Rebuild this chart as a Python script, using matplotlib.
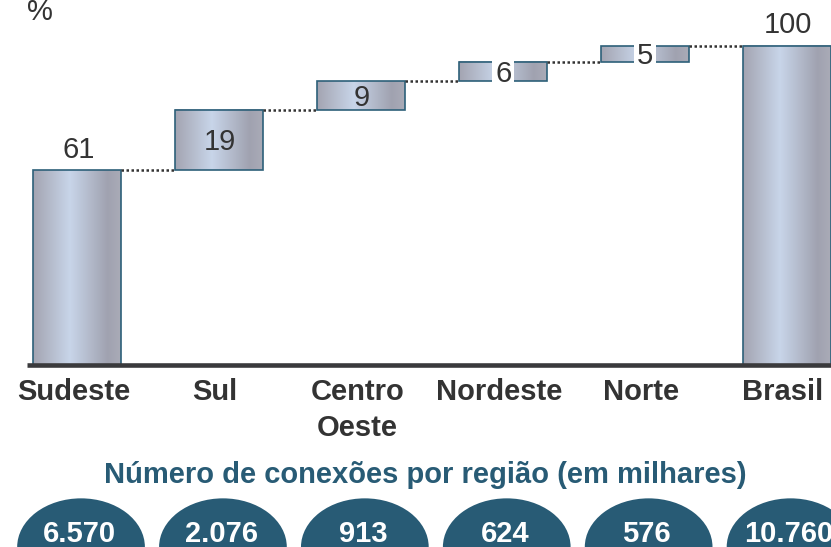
import matplotlib
matplotlib.use("Agg")
import matplotlib.pyplot as plt
import numpy as np
from matplotlib.colors import LinearSegmentedColormap
from matplotlib.patches import Ellipse, Rectangle

# ---- data ----
regions = ["Sudeste", "Sul", "Centro\nOeste", "Nordeste", "Norte", "Brasil"]
shares = [61, 19, 9, 6, 5]          # % contribution of each region
total = 100                          # Brasil
connections = ["6.570", "2.076", "913", "624", "576", "10.760"]
title_bottom = "Número de conexões por região (em milhares)"
unit_label = "%"

plt.rcParams['font.family'] = ['Liberation Sans', 'DejaVu Sans']

W, H = 831, 547
fig = plt.figure(figsize=(W / 100, H / 100), dpi=100)
ax = fig.add_axes([0, 0, 1, 1])
ax.axis('off')

DARK = '#333333'
TEAL = '#285b75'
EDGE = '#2d6079'
grad = LinearSegmentedColormap.from_list(
    'bar', [(0, '#a3a4b1'), (0.42, '#c8d5e9'), (0.85, '#a0a2b0'), (1, '#aaabb7')])
gimg = np.linspace(0, 1, 256).reshape(1, -1)

bw = 0.62
n = len(regions)
bottoms = list(np.concatenate([[0], np.cumsum(shares)[:-1]])) + [0]
heights = shares + [total]

for i, (b, h) in enumerate(zip(bottoms, heights)):
    x0, x1 = i - bw / 2, i + bw / 2
    ax.imshow(gimg, cmap=grad, extent=(x0, x1, b, b + h), aspect='auto',
              interpolation='bilinear', zorder=1)
    ax.add_patch(Rectangle((x0, b), bw, h, fill=False, edgecolor=EDGE,
                           linewidth=1.2, zorder=2))
    # connectors
    if i < n - 1:
        ax.plot([x1, i + 1 - bw / 2], [b + h, b + h], color=DARK,
                linestyle=(0, (1, 1)), linewidth=1.8, zorder=2)
    # value labels
    if i == 0 or i == n - 1:
        ax.annotate(str(h), xy=(i, b + h), xytext=(1, 9), textcoords='offset points',
                    ha='center', va='baseline', fontsize=21, color=DARK)
    else:
        kw = {}
        if h < 8:
            kw['bbox'] = dict(boxstyle='square,pad=0.1', fc='white', ec='none')
        ax.annotate(str(h), xy=(i, b + h / 2), xytext=(0, -7.4), textcoords='offset points',
                    ha='center', va='baseline', fontsize=21, color=DARK, zorder=4, **kw)
    # category labels
    ax.annotate(regions[i], xy=(i, 0), xytext=(-3, -9.5), textcoords='offset points',
                ha='center', va='top', fontsize=21, fontweight='bold', color=DARK,
                linespacing=1.35)

# baseline
ax.plot([-0.356, 5.4], [0, 0], color='#3a3a3c', linewidth=3.3, zorder=3,
        solid_capstyle='butt')

# bottom ellipses
for i, c in enumerate(connections):
    ax.add_patch(Ellipse((i + 0.025, -57.05), 0.9, 30.5, facecolor=TEAL,
                         edgecolor='none', zorder=2))
    ax.text(i + 0.012, -55.5, c, ha='center', va='baseline', fontsize=21,
            fontweight='bold', color='white', zorder=3)

ax.text(2.45, -37.0, title_bottom, ha='center', va='baseline', fontsize=21,
        fontweight='bold', color=TEAL)

fig.text(27 / W, 1 - 20 / H, unit_label, ha='left', va='baseline', fontsize=21,
         color=DARK)

ax.set_xlim(-0.546, 5.310)
ax.set_ylim(-57.05, 114.4)

fig.savefig('out.png', dpi=100)
